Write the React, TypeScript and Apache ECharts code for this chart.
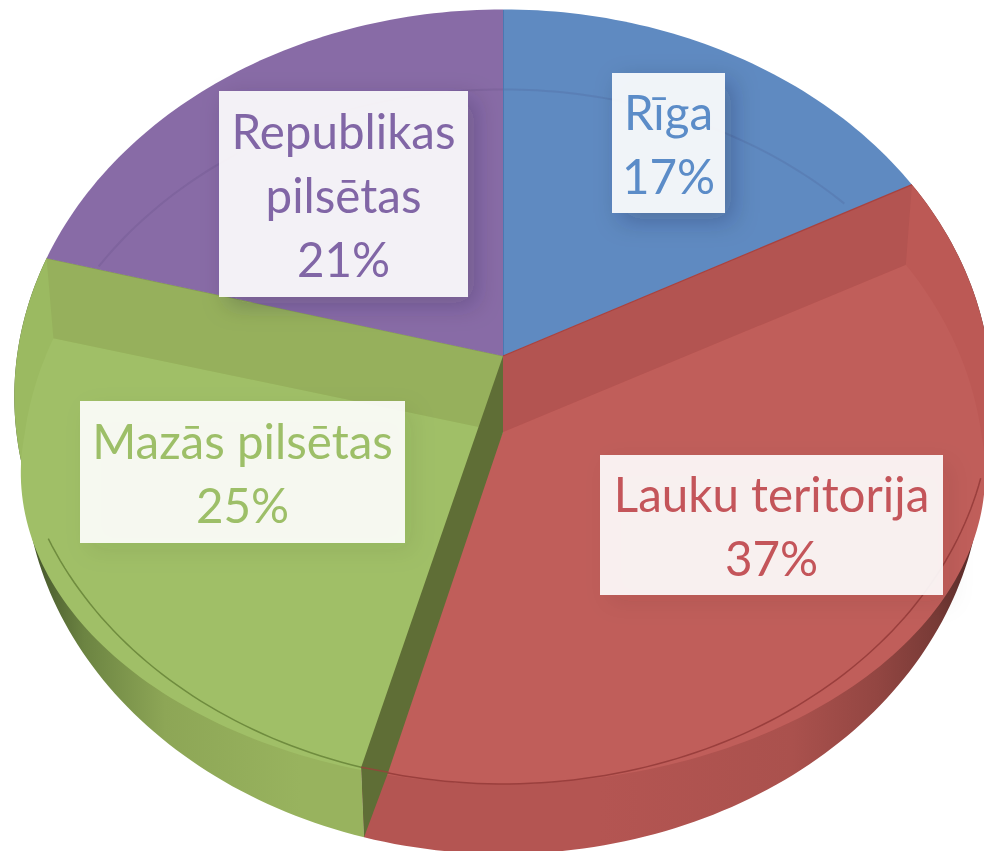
import React, { useEffect, useRef } from "react";
import * as echarts from "echarts";

const categories = ["Rīga", "Lauku teritorija", "Mazās pilsētas", "Republikas pilsētas"];
const values = [17, 37, 25, 21];
const labelLines = [["Rīga"], ["Lauku teritorija"], ["Mazās pilsētas"], ["Republikas", "pilsētas"]];

const topColors = ["#5F8AC1", "#BC5955", "#9BBA61", "#886BA6"];
const innerColors = ["#5F8AC1", "#C05E5A", "#A0BF67", "#886BA6"];
const bandColors = ["", "#B35451", "#96B05C", ""];
const textColors = ["#5B8CC8", "#C4555A", "#9DBF68", "#8166A6"];
const shadowColors = ["rgba(20,20,60,0.28)", "rgba(60,20,20,0.08)", "rgba(30,50,10,0.08)", "rgba(20,20,60,0.25)"];
const labelBoxes = [
  [612, 73, 113, 140],
  [600, 455, 343, 140],
  [80, 401, 325, 142],
  [219, 91, 249, 206],
];

const AX = 503, AY = 356, RA = 486, RB = 383, K = -0.105;
const DEPTH = 70, BAND = 76, RING = 80, TURN = 0.014;

function rim(t: number): [number, number] {
  const u = Math.sin(t), v = -Math.cos(t), d = 1 + K * v;
  return [AX + (RA * u) / d, AY + (RB * v) / d];
}
function ring(t: number): [number, number] {
  const [x, y] = rim(t);
  const v = -Math.cos(t);
  const f = 1 - Math.max(0, v);
  return [AX + (x - AX) * (1 - 0.015 * f), y + RING * f];
}
function floor(t: number): [number, number] {
  const [x, y] = rim(t);
  return [AX + (x - AX) * 0.98, y + DEPTH];
}
function sample(fn: (t: number) => [number, number], a: number, b: number) {
  const out: [number, number][] = [];
  const n = Math.max(2, Math.ceil(Math.abs(b - a) / 0.02));
  for (let i = 0; i <= n; i++) out.push(fn(a + ((b - a) * i) / n));
  return out;
}
function boundary(i: number) {
  if (i === 0) return 0;
  if (i === values.length) return Math.PI * 2;
  const total = values.reduce((s, v) => s + v, 0);
  return (values.slice(0, i).reduce((s, v) => s + v, 0) / total) * Math.PI * 2 + TURN;
}

const redWall = new echarts.graphic.LinearGradient(600, 0, 984, 0, [
  { offset: 0, color: "#B45552" },
  { offset: 0.5, color: "#AA514D" },
  { offset: 0.72, color: "#934642" },
  { offset: 0.88, color: "#773A36" },
  { offset: 1, color: "#4E2624" },
], true);
const greenWall = new echarts.graphic.LinearGradient(30, 0, 300, 0, [
  { offset: 0, color: "#43532A" },
  { offset: 0.2, color: "#6C8442" },
  { offset: 0.5, color: "#8DA656" },
  { offset: 1, color: "#98B35E" },
], true);

function renderSlice(params: any, api: any) {
  const i = params.dataIndex;
  const a = boundary(i);
  const b = boundary(i + 1);
  const kids: any[] = [];
  const apex: [number, number] = [AX, AY];
  const top = [apex, ...sample(rim, a, b)];

  if (i === 1 || i === 2) {
    kids.push({
      type: "polygon",
      shape: { points: [...sample(rim, a, b), ...sample(floor, b, a)] },
      style: { fill: i === 1 ? redWall : greenWall },
    });
  }
  kids.push({ type: "polygon", shape: { points: top }, style: { fill: topColors[i] } });

  if (i === 0 || i === 3) {
    const P = sample(ring, a, b).filter(([x, y]) => {
      const seam = i === 0 ? rim(b) : rim(a);
      const yOn = AY + ((seam[1] - AY) * (x - AX)) / (seam[0] - AX);
      return y < yOn - 2;
    });
    kids.push({
      type: "polyline",
      shape: { points: P },
      style: { fill: "none", stroke: "rgba(50,40,90,0.10)", lineWidth: 2 },
    });
    if (i === 0) {
      kids.push({
        type: "line",
        shape: { x1: AX, y1: 10, x2: AX, y2: AY },
        style: { stroke: "#4A78B2", lineWidth: 2 },
      });
    }
  } else {
    const seamPt = i === 1 ? rim(a) : rim(b);
    const inner = [[AX, AY + BAND], ...sample(ring, a, b)];
    kids.push({ type: "polygon", shape: { points: inner }, style: { fill: innerColors[i] } });
    const r = ring(i === 1 ? a : b);
    kids.push({
      type: "polygon",
      shape: { points: [apex, seamPt, r, [AX, AY + BAND]] },
      style: { fill: bandColors[i] },
    });
    kids.push({
      type: "polyline",
      shape: { points: i === 1 ? sample(rim, Math.PI * 0.6, b) : sample(rim, a, Math.PI * 1.35) },
      style: { fill: "none", stroke: i === 1 ? "#9A3F3D" : "#6F8C3E", lineWidth: 1.5 },
    });
    kids.push({
      type: "line",
      shape: { x1: AX, y1: AY, x2: seamPt[0], y2: seamPt[1] },
      style: { stroke: i === 1 ? "#A8423F" : "#86A04F", lineWidth: 1.2 },
    });
    if (i === 2) {
      const low = rim(a);
      const lowFloor = floor(a);
      kids.push({
        type: "polygon",
        shape: {
          points: [apex, [AX, AY + BAND], [low[0] + 27, low[1] + 5], [lowFloor[0], lowFloor[1]], low],
        },
        style: { fill: "#5F6E36" },
      });
      kids.push({
        type: "line",
        shape: { x1: low[0], y1: low[1], x2: low[0] + 27, y2: low[1] + 5 },
        style: { stroke: "#8E4A3A", lineWidth: 1.5 },
      });
    }
  }
  return { type: "group", children: kids };
}

function renderLabel(params: any, api: any) {
  const i = params.dataIndex;
  const [x, y, w, h] = labelBoxes[i];
  return {
    type: "group",
    children: [
      {
        type: "rect",
        shape: { x, y, width: w, height: h },
        style: {
          fill: "rgba(255,255,255,0.9)",
          shadowBlur: 24,
          shadowColor: shadowColors[i],
          shadowOffsetX: 8,
          shadowOffsetY: 8,
        },
      },
      {
        type: "text",
        x: x + w / 2,
        y: y + h / 2,
        style: {
          text: [...labelLines[i], `${api.value(0)}%`].join("\n"),
          fill: textColors[i],
          font: '400 47.5px Lato, "Noto Sans", sans-serif',
          align: "center",
          verticalAlign: "middle",
          lineHeight: 64,
        },
      },
    ],
  };
}

export default function App() {
  const ref = useRef<HTMLDivElement>(null);
  useEffect(() => {
    const chart = echarts.init(ref.current!, undefined, { renderer: "svg" });
    const data = categories.map((name, i) => ({ name, value: [values[i]] }));
    chart.setOption({
      animation: false,
      backgroundColor: "#fff",
      series: [
        { type: "custom", coordinateSystem: "none", renderItem: renderSlice, data, clip: false, silent: true },
        { type: "custom", coordinateSystem: "none", renderItem: renderLabel, data, clip: false, silent: true, z: 5 },
      ],
    });
    return () => chart.dispose();
  }, []);
  return (
    <div
      ref={ref}
      style={{ position: "fixed", left: 0, top: 0, width: 984, height: 851, filter: "blur(0.7px)" }}
    />
  );
}
